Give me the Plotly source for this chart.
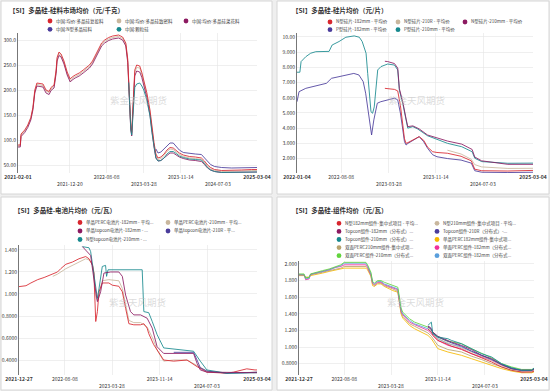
import plotly.graph_objects as go

W, H = 550, 391
FONT = "Noto Sans CJK SC, Noto Sans, sans-serif"

# ---------------- Panel 1: 硅料市场均价 (元/千克) ----------------
p1_title = "【SI】多晶硅-硅料市场均价（元/千克）"
p1_names = ["中国:均价:多晶硅复投料", "中国:均价:多晶硅致密料", "中国:均价:多晶硅菜花料",
            "中国:N型多晶硅料", "中国:颗粒硅"]
p1_dates = ["2021-02-01", "2021-02-15", "2021-02-20", "2021-03-15", "2021-04-03", "2021-04-22", "2021-05-05",
            "2021-05-17", "2021-05-30", "2021-07-07", "2021-07-26", "2021-08-14", "2021-08-26", "2021-09-14",
            "2021-09-27", "2021-10-03", "2021-10-15", "2021-10-28", "2021-11-15", "2021-12-05", "2021-12-24",
            "2022-01-05", "2022-01-24", "2022-02-18", "2022-03-15", "2022-04-03", "2022-04-23", "2022-05-12",
            "2022-05-31", "2022-06-19", "2022-07-08", "2022-07-27", "2022-08-21", "2022-09-15", "2022-10-22",
            "2022-11-16", "2022-12-06", "2022-12-18", "2022-12-24", "2022-12-31", "2023-01-06", "2023-01-12",
            "2023-01-18", "2023-01-25", "2023-01-31", "2023-02-12", "2023-03-03", "2023-03-16", "2023-03-28",
            "2023-04-16", "2023-05-06", "2023-05-18", "2023-05-31", "2023-06-12", "2023-06-25", "2023-07-13",
            "2023-08-02", "2023-08-20", "2023-09-08", "2023-09-28", "2023-10-17", "2023-11-05", "2023-11-30",
            "2024-01-07", "2024-02-13", "2024-03-22", "2024-04-10", "2024-04-29", "2024-05-18", "2024-06-12",
            "2024-07-26", "2024-09-27", "2024-11-29", "2025-01-30", "2025-03-04"]
p1_futou = [90, 90, 112, 120, 130, 145, 165, 200, 214, 212,
            200, 197, 205, 210, 240, 265, 276, 272, 258, 236,
            222, 226, 230, 234, 240, 245, 250, 258, 270, 285,
            294, 300, 305, 308, 310, 306, 294, 262, 220, 160,
            128, 115, 150, 200, 240, 250, 248, 235, 220, 195,
            160, 125, 95, 72, 64, 66, 72, 80, 85, 84,
            79, 74, 70, 67, 66, 64, 58, 50, 45, 41,
            39, 39, 40, 41, 41]
p1_mimi = [88, 88, 110, 118, 128, 143, 163, 197, 211, 209,
           198, 195, 202, 207, 236, 262, 273, 269, 255, 233,
           219, 223, 227, 231, 237, 242, 247, 255, 267, 282,
           291, 297, 302, 305, 307, 303, 291, 258, 215, 155,
           125, 112, 145, 195, 235, 245, 244, 231, 216, 190,
           155, 120, 90, 68, 61, 63, 69, 77, 82, 81,
           76, 71, 67, 64, 63, 61, 55, 47, 42, 39,
           37, 37, 38, 39, 39]
p1_caihua = [86, 86, 107, 115, 125, 140, 160, 194, 208, 206,
             194, 191, 199, 204, 233, 258, 269, 266, 252, 230,
             216, 220, 224, 228, 234, 239, 244, 252, 264, 279,
             288, 294, 299, 302, 304, 300, 288, 255, 210, 150,
             120, 108, 140, 190, 228, 238, 236, 225, 210, 185,
             150, 115, 86, 64, 58, 59, 64, 70, 74, 74,
             70, 66, 63, 60, 59, 57, 51, 44, 40, 37,
             35, 35, 36, 36, 36]
p1_ntype_start = 53
p1_ntype = [82, 74, 76, 82, 89, 94, 94, 88, 80, 75, 73, 72, 71, 65, 57, 51, 47, 45, 44, 44, 44, 45]
p1_keli_start = 38
p1_keli = [215, 150, 122, 110, 138, 180, 205, 212, 214, 208, 200, 180, 148, 115, 85, 64, 58, 59, 64,
           72, 77, 77, 73, 68, 65, 62, 61, 60, 53, 45, 40, 37, 35, 35, 35, 36, 36]
p1_xticks = ["2021-02-01", "2021-12-20", "2022-08-08", "2023-03-28", "2023-11-14", "2024-07-03", "2025-03-04"]
p1_xrows = [1, 2, 1, 2, 1, 2, 1]
p1_yticks = [50, 100, 150, 200, 250, 300]
p1_ylabels = ["50.00", "100.0", "150.0", "200.0", "250.0", "300.0"]

# ---------------- Panel 2: 硅片均价 (元/片) ----------------
p2_title = "【SI】多晶硅-硅片均价（元/片）"
p2_names = ["N型硅片-182mm - 平均价", "N型硅片-210R - 平均价", "N型硅片-210mm - 平均价",
            "P型硅片-182mm - 平均价", "P型硅片-210mm - 平均价"]
p2_n182_dates = ["2023-03-10", "2023-04-26", "2023-05-12", "2023-05-25", "2023-06-06", "2023-06-14", "2023-06-22",
                 "2023-07-01", "2023-08-25", "2023-09-16", "2023-10-05", "2023-10-30", "2023-11-20", "2024-01-10",
                 "2024-03-17", "2024-05-06", "2024-05-23", "2024-06-26", "2024-11-01", "2025-03-04"]
p2_n182 = [6.62, 6.55, 6.45, 5.5, 4.2, 3.3, 3.0, 3.05, 3.44, 3.2, 2.75, 2.45, 2.4, 2.35, 2.15, 1.85, 1.3, 1.2, 1.18, 1.22]
p2_n210r_dates = ["2024-01-10", "2024-03-17", "2024-05-06", "2024-05-23", "2024-06-26", "2024-11-01", "2025-03-04"]
p2_n210r = [2.55, 2.3, 1.95, 1.6, 1.45, 1.35, 1.36]
p2_n210_dates = ["2023-03-10", "2023-03-24", "2023-04-26", "2023-05-12", "2023-05-20", "2023-06-06", "2023-06-22",
                 "2023-06-30", "2023-07-25", "2023-08-25", "2023-10-05", "2023-11-08", "2024-01-11", "2024-03-20",
                 "2024-05-10", "2024-05-23", "2024-06-26", "2024-11-01", "2025-03-04"]
p2_n210 = [8.4, 8.38, 8.25, 7.95, 6.6, 5.7, 4.6, 4.1, 4.15, 3.95, 3.55, 3.4, 3.15, 2.95, 2.6, 2.1, 1.85, 1.62, 1.62]
p2_p182_dates = ["2022-01-04", "2022-01-14", "2022-02-16", "2022-03-20", "2022-04-17", "2022-05-28", "2022-06-22",
                 "2022-07-26", "2022-08-28", "2022-10-09", "2022-11-03", "2022-11-24", "2022-12-06", "2022-12-22",
                 "2023-01-04", "2023-01-15", "2023-02-01", "2023-02-18", "2023-04-01", "2023-04-26", "2023-05-12",
                 "2023-05-25", "2023-06-06", "2023-06-14", "2023-06-22", "2023-07-01", "2023-08-25", "2023-09-16",
                 "2023-10-05", "2023-10-30", "2023-11-20", "2024-01-10", "2024-03-17", "2024-05-06", "2024-05-23",
                 "2024-06-26", "2024-11-01", "2025-03-04"]
p2_p182 = [5.74, 6.4, 6.62, 6.73, 6.84, 6.95, 7.28, 7.39, 7.5, 7.6, 7.5, 7.06, 6.3, 4.76, 3.55, 4.54, 5.64, 5.74,
           5.86, 5.97, 5.86, 5.0, 3.88, 3.11, 2.89, 3.0, 3.44, 3.11, 2.68, 2.25, 2.12, 2.0, 1.9, 1.7, 1.2, 1.1,
           1.08, 1.1]
p2_p210_dates = ["2022-01-04", "2022-01-18", "2022-01-24", "2022-02-16", "2022-03-12", "2022-04-06", "2022-06-10",
                 "2022-06-25", "2022-07-29", "2022-08-31", "2022-10-11", "2022-11-05", "2022-11-19", "2022-12-08",
                 "2022-12-16", "2022-12-24", "2023-01-01", "2023-01-09", "2023-01-17", "2023-02-03", "2023-02-19",
                 "2023-03-24", "2023-04-26", "2023-05-12", "2023-05-20", "2023-06-06", "2023-06-22", "2023-06-30",
                 "2023-07-25", "2023-08-17", "2023-10-05", "2023-11-08", "2024-01-11", "2024-03-20", "2024-05-10",
                 "2024-05-23", "2024-06-26", "2024-11-01", "2025-03-04"]
p2_p210 = [7.68, 7.68, 8.38, 8.7, 8.93, 9.03, 9.05, 9.47, 9.7, 9.98, 10.07, 9.98, 9.7, 8.93, 7.6, 6.07, 5.08, 4.98,
           5.4, 7.83, 8.05, 8.22, 8.15, 7.83, 6.5, 5.6, 4.55, 4.0, 4.1, 3.95, 3.5, 3.33, 3.0, 2.78, 2.45, 2.02, 1.8,
           1.69, 1.7]
p2_xticks = ["2022-01-04", "2022-08-08", "2023-03-28", "2023-11-14", "2024-07-03", "2025-03-04"]
p2_xrows = [1, 1, 2, 1, 2, 1]
p2_yticks = [2, 3, 4, 5, 6, 7, 8, 9, 10]
p2_ylabels = ["2.000", "3.000", "4.000", "5.000", "6.000", "7.000", "8.000", "9.000", "10.00"]

# ---------------- Panel 3: 电池片均价 (元/瓦) ----------------
p3_title = "【SI】多晶硅-电池片均价（元/瓦）"
p3_names = ["单晶PERC电池片-182mm - 平均...", "单晶PERC电池片-210mm - 平均...",
            "单晶topcon电池片-182mm - ...", "单晶topcon电池片-210R - 平...",
            "N型topcon电池片-210mm - ..."]
p3_perc182_dates = ["2021-12-27", "2022-01-30", "2022-02-23", "2022-03-28", "2022-04-29", "2022-05-23",
                    "2022-07-03", "2022-07-19", "2022-08-13", "2022-09-14", "2022-10-16", "2022-11-18",
                    "2022-12-04", "2022-12-21", "2022-12-28", "2023-01-06", "2023-01-14", "2023-01-22",
                    "2023-02-07", "2023-03-11", "2023-03-28", "2023-04-29", "2023-05-16", "2023-06-01",
                    "2023-06-17", "2023-07-11", "2023-08-13", "2023-08-29", "2023-09-14", "2023-09-22",
                    "2023-10-16", "2023-12-04", "2024-01-22", "2024-03-27", "2024-05-15", "2024-07-02",
                    "2024-10-08", "2024-11-09", "2025-01-13", "2025-02-22", "2025-03-04"]
p3_perc182 = [1.067, 1.075, 1.10, 1.13, 1.15, 1.17, 1.20, 1.23, 1.27, 1.29,
              1.32, 1.34, 1.32, 1.26, 1.19, 0.75, 0.84, 1.02, 1.10, 1.10,
              1.08, 1.07, 1.02, 0.87, 0.73, 0.72, 0.72, 0.73, 0.69, 0.64,
              0.54, 0.40, 0.39, 0.40, 0.34, 0.29, 0.28, 0.29, 0.32, 0.31, 0.31]
p3_perc210_dates = ["2022-06-10", "2022-07-03", "2022-08-13", "2022-09-14", "2022-10-16", "2022-11-18",
                    "2022-12-04", "2022-12-21", "2022-12-28", "2023-01-06", "2023-01-14", "2023-01-22",
                    "2023-02-07", "2023-03-11", "2023-04-29", "2023-05-16", "2023-06-01", "2023-06-17",
                    "2023-07-11", "2023-08-13", "2023-09-14", "2023-10-16", "2023-11-02", "2023-12-04",
                    "2024-01-22", "2024-03-27", "2024-05-15", "2024-07-02", "2024-10-08", "2025-03-04"]
p3_perc210 = [1.16, 1.18, 1.23, 1.26, 1.29, 1.32, 1.31, 1.27, 1.20, 0.98, 0.94, 1.00, 1.12, 1.13, 1.12,
              1.05, 0.90, 0.76, 0.74, 0.74, 0.70, 0.58, 0.49, 0.39, 0.40, 0.40, 0.35, 0.30, 0.28, 0.29]
p3_top182_dates = ["2022-11-02", "2022-12-12", "2023-01-01", "2023-01-14", "2023-01-30", "2023-02-15",
                   "2023-03-20", "2023-04-29", "2023-05-16", "2023-06-01", "2023-06-25", "2023-07-11",
                   "2023-08-13", "2023-09-14", "2023-10-09", "2023-11-02", "2023-12-04", "2024-04-28",
                   "2024-05-15", "2024-05-31", "2024-07-02", "2025-03-04"]
p3_top182 = [1.43, 1.35, 1.08, 0.93, 1.02, 1.19, 1.20, 1.20, 1.16, 0.99, 0.84, 0.81, 0.81, 0.78, 0.69,
             0.52, 0.46, 0.46, 0.37, 0.31, 0.29, 0.285]
p3_top210r_dates = ["2024-01-22", "2024-04-28", "2024-05-15", "2024-05-31", "2024-07-02", "2024-10-08",
                    "2025-01-13", "2025-03-04"]
p3_top210r = [0.47, 0.47, 0.40, 0.33, 0.30, 0.28, 0.285, 0.29]
p3_top210_dates = ["2022-11-02", "2022-12-04", "2022-12-12", "2022-12-21", "2023-01-01", "2023-01-14",
                   "2023-01-22", "2023-02-07", "2023-02-23", "2023-02-28", "2023-03-07", "2023-08-21",
                   "2023-08-29", "2023-09-22", "2023-10-09", "2023-11-02", "2023-12-04", "2024-03-03",
                   "2024-04-28", "2024-05-31", "2024-07-02", "2024-10-08", "2025-02-22", "2025-03-04"]
p3_top210 = [1.43, 1.42, 1.385, 1.26, 1.11, 0.96, 1.05, 1.25, 1.26, 1.16, 1.22, 1.22, 0.84, 0.83, 0.75,
             0.63, 0.51, 0.49, 0.48, 0.39, 0.31, 0.28, 0.285, 0.285]
p3_xticks = ["2021-12-27", "2022-08-08", "2023-03-28", "2023-11-14", "2024-07-03", "2025-03-04"]
p3_xrows = [1, 1, 2, 1, 2, 1]
p3_yticks = [0.4, 0.6, 0.8, 1.0, 1.2, 1.4]
p3_ylabels = ["0.4000", "0.6000", "0.8000", "1.000", "1.200", "1.400"]

# ---------------- Panel 4: 组件均价 (元/瓦) ----------------
p4_title = "【SI】多晶硅-组件均价（元/瓦）"
p4_names = ["N型182mm组件-集中式项目 - 平均...", "N型210mm组件-集中式项目 - 平均...",
            "Topcon组件-182mm（分布式）...", "Topcon组件-210R（分布式）-...",
            "Topcon组件-210mm（分布式）...", "单晶PERC182mm组件-集中式项...",
            "双面PERC210mm组件-集中式项...", "单面PERC组件-182mm（分布式...",
            "双面PERC组件-210mm（分布式...", "双面PERC组件-182mm（分布式..."]
p4n_dates = ["2023-09-26", "2023-10-06", "2023-10-13", "2023-10-20", "2023-11-14", "2024-01-03", "2024-01-20",
             "2024-03-10", "2024-04-28", "2024-06-17", "2024-08-06", "2024-09-24", "2024-11-13", "2025-01-02",
             "2025-02-21", "2025-03-04"]
p4_n182 = [1.22, 1.20, 1.18, 1.14, 1.08, 1.03, 1.01, 0.97, 0.92, 0.87, 0.82, 0.76, 0.72, 0.70, 0.70, 0.71]
p4_n210 = [1.24, 1.22, 1.20, 1.16, 1.10, 1.05, 1.03, 0.99, 0.94, 0.89, 0.84, 0.78, 0.73, 0.71, 0.71, 0.72]
p4_top182 = [1.25, 1.24, 1.22, 1.18, 1.13, 1.08, 1.06, 1.02, 0.97, 0.90, 0.86, 0.79, 0.74, 0.72, 0.72, 0.73]
p4_top210r = [1.24, 1.23, 1.21, 1.17, 1.12, 1.07, 1.05, 1.01, 0.95, 0.90, 0.85, 0.79, 0.74, 0.72, 0.72, 0.74]
p4_top210 = [1.26, 1.28, 1.30, 1.16, 1.12, 1.10, 1.08, 1.04, 0.98, 0.92, 0.88, 0.80, 0.75, 0.72, 0.72, 0.75]
p4_dates = ["2021-12-27", "2022-01-21", "2022-01-29", "2022-02-15", "2022-02-22", "2022-03-20", "2022-04-22",
            "2022-05-25", "2022-06-27", "2022-07-22", "2022-08-08", "2022-09-10", "2022-11-23", "2022-12-01",
            "2022-12-18", "2022-12-26", "2023-01-04", "2023-01-20", "2023-02-06", "2023-02-22", "2023-03-19",
            "2023-04-05", "2023-04-30", "2023-05-08", "2023-05-16", "2023-05-24", "2023-06-10", "2023-06-27",
            "2023-07-22", "2023-08-24", "2023-09-26", "2023-10-13", "2023-11-14", "2024-01-03", "2024-03-10",
            "2024-04-28", "2024-06-17", "2024-08-06", "2024-09-24", "2024-11-13", "2025-01-02", "2025-02-21",
            "2025-03-04"]
p4_perc182_jz = [1.86, 1.86, 1.84, 1.84, 1.86, 1.87, 1.89, 1.91, 1.93, 1.94, 1.95, 1.95, 1.95, 1.93, 1.85,
                 1.74, 1.73, 1.76, 1.76, 1.73, 1.70, 1.68, 1.66, 1.52, 1.40, 1.35, 1.31, 1.26, 1.22, 1.18,
                 1.14, 1.10, 0.98, 0.94, 0.90, 0.86, 0.82, 0.78, 0.74, 0.71, 0.69, 0.69, 0.70]
p4_perc210_jz = [1.87, 1.87, 1.84, 1.84, 1.87, 1.88, 1.90, 1.92, 1.94, 1.95, 1.97, 1.97, 1.97, 1.95, 1.86,
                 1.76, 1.74, 1.77, 1.77, 1.74, 1.72, 1.70, 1.67, 1.54, 1.42, 1.37, 1.33, 1.28, 1.25, 1.21,
                 1.17, 1.13, 1.02, 0.97, 0.94, 0.89, 0.85, 0.80, 0.76, 0.72, 0.70, 0.70, 0.71]
p4_perc182_fb1 = [1.87, 1.87, 1.81, 1.82, 1.875, 1.89, 1.91, 1.93, 1.96, 1.97, 1.99, 1.99, 1.99, 1.96, 1.87,
                  1.77, 1.75, 1.78, 1.78, 1.75, 1.73, 1.71, 1.69, 1.55, 1.43, 1.39, 1.35, 1.30, 1.27, 1.23,
                  1.20, 1.16, 1.08, 1.02, 0.98, 0.92, 0.88, 0.84, 0.78, 0.74, 0.70, 0.71, 0.72]
p4_perc210_fb = [1.88, 1.88, 1.83, 1.84, 1.88, 1.90, 1.92, 1.94, 1.97, 1.99, 2.02, 2.02, 2.02, 1.99, 1.90,
                 1.79, 1.77, 1.80, 1.80, 1.78, 1.76, 1.74, 1.72, 1.60, 1.47, 1.42, 1.38, 1.34, 1.30, 1.27,
                 1.24, 1.20, 1.12, 1.07, 1.04, 0.98, 0.92, 0.87, 0.80, 0.76, 0.73, 0.73, 0.74]
p4_perc182_fb2 = [1.87, 1.87, 1.82, 1.83, 1.875, 1.89, 1.91, 1.93, 1.96, 1.98, 2.01, 2.01, 2.01, 1.98, 1.88,
                  1.78, 1.76, 1.79, 1.79, 1.76, 1.74, 1.72, 1.70, 1.57, 1.45, 1.40, 1.36, 1.32, 1.28, 1.25,
                  1.22, 1.18, 1.10, 1.04, 1.00, 0.95, 0.90, 0.85, 0.79, 0.75, 0.71, 0.72, 0.73]
p4_xticks = ["2021-12-27", "2022-08-08", "2023-03-28", "2023-11-14", "2024-07-03", "2025-03-04"]
p4_xrows = [1, 1, 2, 1, 2, 1]
p4_yticks = [0.8, 1.0, 1.2, 1.4, 1.6, 1.8, 2.0]
p4_ylabels = ["0.8000", "1.000", "1.200", "1.400", "1.600", "1.800", "2.000"]

# ---------------- colours ----------------
C5 = ["#d8262e", "#c9b79e", "#8c1a61", "#4a3c9b", "#17898e"]
C10 = C5 + ["#f6b800", "#b8a36e", "#f0309c", "#62d43e", "#5a9fdc"]

watermark = "紫金天风期货"


def px(x):
    return x / W


def py(y):
    return 1 - y / H


fig = go.Figure()


def add_line(n, x, y, color):
    s = "" if n == 1 else str(n)
    fig.add_trace(go.Scatter(x=x, y=y, mode="lines", line=dict(color=color, width=1), opacity=0.85,
                             xaxis="x" + s, yaxis="y" + s, showlegend=False, hoverinfo="skip",
                             connectgaps=True))


axes = {}
annotations = []
shapes = []


def setup_axes(n, x0, x1, ytop, ybot, xrange, yrange, xticks, xrows, yticks, ylabels):
    s = "" if n == 1 else str(n)
    texts = []
    for i, (d, r) in enumerate(zip(xticks, xrows)):
        t = "<b>%s</b>" % d if i in (0, len(xticks) - 1) else d
        if r == 1:
            texts.append(t)
        else:
            texts.append("")
            annotations.append(dict(x=d, xref="x" + s, y=py(ybot + 10.5), yref="paper", text=t,
                                    showarrow=False, xanchor="center", yanchor="middle",
                                    font=dict(size=5, color="#333", family=FONT)))
    axes["xaxis" + s] = dict(domain=[px(x0), px(x1)], anchor="y" + s, type="date", range=xrange,
                             tickmode="array", tickvals=xticks, ticktext=texts, automargin=False,
                             tickangle=0, tickfont=dict(size=5, color="#333"), showgrid=True,
                             gridcolor="#e4e4e4", gridwidth=0.6, zeroline=False, showline=False, ticks="",
                             fixedrange=True)
    axes["yaxis" + s] = dict(domain=[py(ybot), py(ytop)], anchor="x" + s, range=yrange, tickmode="array",
                             tickvals=yticks, ticktext=ylabels, tickfont=dict(size=5, color="#333"),
                             automargin=False, showgrid=True, gridcolor="#e4e4e4", gridwidth=0.6,
                             zeroline=False, showline=True, linecolor="#777", linewidth=1, ticks="",
                             fixedrange=True)


# panel 1
add_line(1, p1_dates, p1_mimi, C5[1])
add_line(1, p1_dates, p1_caihua, C5[2])
add_line(1, p1_dates, p1_futou, C5[0])
add_line(1, p1_dates[p1_ntype_start:], p1_ntype, C5[3])
add_line(1, p1_dates[p1_keli_start:], p1_keli, C5[4])
setup_axes(1, 18, 257, 33, 173, ["2021-02-01", "2025-03-04"], [34, 314], p1_xticks, p1_xrows,
           p1_yticks, p1_ylabels)

# panel 2
add_line(2, p2_n210r_dates, p2_n210r, C5[1])
add_line(2, p2_p182_dates, p2_p182, C5[3])
add_line(2, p2_n182_dates, p2_n182, C5[0])
add_line(2, p2_p210_dates, p2_p210, C5[4])
add_line(2, p2_n210_dates, p2_n210, C5[2])
setup_axes(2, 297, 533, 33, 173, ["2022-01-04", "2025-03-04"], [1.05, 10.26], p2_xticks, p2_xrows,
           p2_yticks, p2_ylabels)

# panel 3
add_line(3, p3_perc210_dates, p3_perc210, C5[1])
add_line(3, p3_perc182_dates, p3_perc182, C5[0])
add_line(3, p3_top210r_dates, p3_top210r, C5[3])
add_line(3, p3_top210_dates, p3_top210, C5[4])
add_line(3, p3_top182_dates, p3_top182, C5[2])
setup_axes(3, 19, 257, 245, 375, ["2021-12-27", "2025-03-04"], [0.264, 1.445], p3_xticks, p3_xrows,
           p3_yticks, p3_ylabels)

# panel 4
add_line(4, p4_dates, p4_perc182_jz, C10[5])
add_line(4, p4_dates, p4_perc210_jz, C10[6])
add_line(4, p4_dates, p4_perc182_fb1, C10[7])
add_line(4, p4_dates, p4_perc182_fb2, C10[9])
add_line(4, p4_dates, p4_perc210_fb, C10[8])
add_line(4, p4n_dates, p4_n182, C10[0])
add_line(4, p4n_dates, p4_n210, C10[1])
add_line(4, p4n_dates, p4_top182, C10[2])
add_line(4, p4n_dates, p4_top210r, C10[3])
add_line(4, p4n_dates, p4_top210, C10[4])
setup_axes(4, 299, 534, 261, 375, ["2021-12-27", "2025-03-04"], [0.663, 2.036], p4_xticks, p4_xrows,
           p4_yticks, p4_ylabels)

# panel frames
for (x0, y0, x1, y1) in [(1, 1, 272, 194), (277, 1, 549, 194), (1, 197, 272, 390), (277, 197, 549, 390)]:
    shapes.append(dict(type="rect", xref="paper", yref="paper", x0=px(x0), x1=px(x1), y0=py(y1), y1=py(y0),
                       line=dict(color="#d6d6d6", width=1), fillcolor="white", layer="below"))


def legend(names, colors, positions):
    for name, col, (cx, cy) in zip(names, colors, positions):
        r = 2.4
        shapes.append(dict(type="circle", xref="paper", yref="paper", x0=px(cx - r), x1=px(cx + r),
                           y0=py(cy + r), y1=py(cy - r), fillcolor=col, line=dict(width=0), layer="above"))
        annotations.append(dict(x=px(cx + 3.5), y=py(cy), xref="paper", yref="paper", text=name,
                                showarrow=False, xanchor="left", yanchor="middle",
                                font=dict(size=4.5, color="#444", family=FONT)))


legend(p1_names, C5, [(50, 21), (119, 21), (186, 21), (50, 29.3), (119, 29.3)])
legend(p2_names, C5, [(330, 22), (398, 22), (465, 22), (330, 29.7), (398, 29.7)])
legend(p3_names, C5, [(80, 222.5), (168, 222.5), (80, 231), (168, 231), (80, 239.5)])
p4_pos = []
for rr in [223.3, 231.4, 239.5, 247.6, 255.7]:
    p4_pos += [(339, rr), (437, rr)]
legend(p4_names, C10, p4_pos)

for (t, x, y) in [(p1_title, 7, 10), (p2_title, 290, 10), (p3_title, 12, 210), (p4_title, 290, 210)]:
    annotations.append(dict(x=px(x), y=py(y), xref="paper", yref="paper", text="<b>%s</b>" % t,
                            showarrow=False, xanchor="left", yanchor="middle",
                            font=dict(size=6.5, color="#333", family=FONT)))

for (x, y) in [(138, 100), (416, 100), (137, 302), (415, 302)]:
    annotations.append(dict(x=px(x), y=py(y), xref="paper", yref="paper", text=watermark, showarrow=False,
                            xanchor="center", yanchor="middle",
                            font=dict(size=9.5, color="rgba(190,190,190,0.55)", family=FONT)))

fig.update_layout(width=W, height=H, autosize=False, margin=dict(l=0, r=0, t=0, b=0, autoexpand=False),
                  paper_bgcolor="#efefef", plot_bgcolor="rgba(0,0,0,0)",
                  font=dict(family=FONT, size=5, color="#333"), showlegend=False, hovermode=False,
                  shapes=shapes, annotations=annotations, **axes)

fig.write_html("out.html", config={"displayModeBar": False, "staticPlot": True},
               post_script="document.body.style.margin='0';document.body.style.padding='0';"
                           "document.documentElement.style.overflow='hidden';")
